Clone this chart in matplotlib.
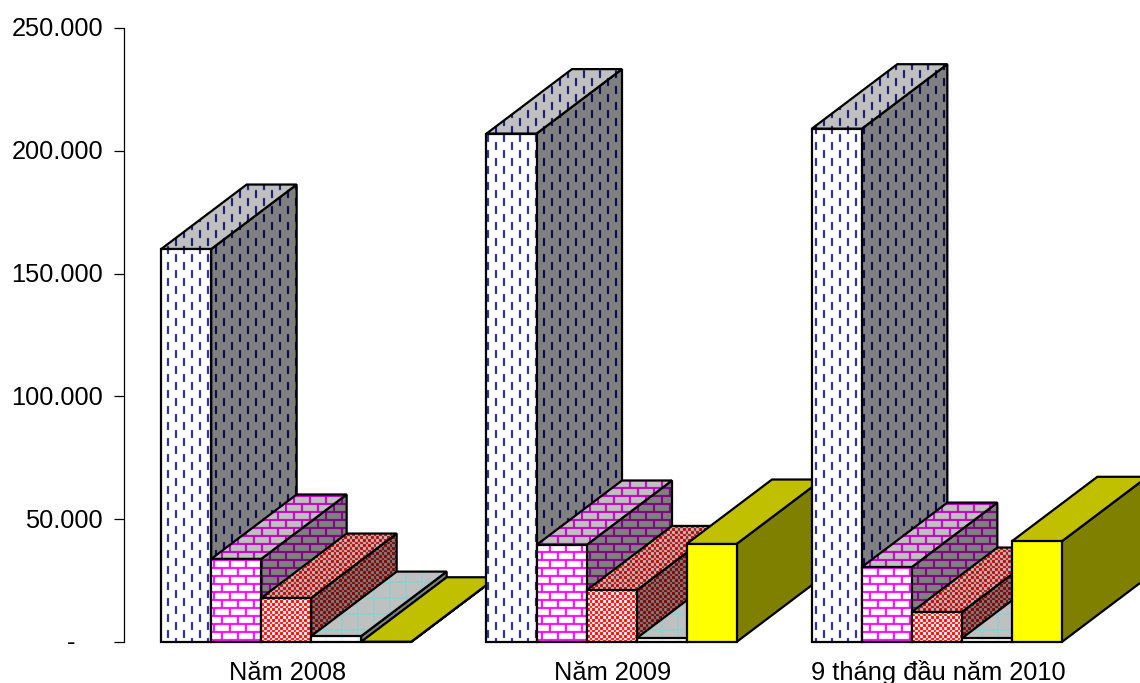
import numpy as np
import matplotlib
matplotlib.use("Agg")
import matplotlib.pyplot as plt
from matplotlib.patches import Polygon
from matplotlib.ticker import FixedLocator, FixedFormatter
from matplotlib.transforms import ScaledTranslation

plt.rcParams["font.family"] = ["Liberation Sans", "DejaVu Sans"]

# Chart data
categories = ["Năm 2008", "Năm 2009", "9 tháng đầu năm 2010"]
series_a = [160000, 207000, 209000]
series_b = [33800, 39500, 30500]
series_c = [17900, 21000, 12200]
series_d = [2400, 1500, 1500]
series_e = [100, 39900, 41000]
y_ticks = [0, 50000, 100000, 150000, 200000, 250000]
y_tick_labels = ["-    ", "50.000", "100.000", "150.000", "200.000", "250.000"]

W, H = 1140, 683
AX_W = 976
BAR_WIDTH = 50 / (AX_W / 3)
DEPTH_X = 85.5 / (AX_W / 3)      # extrusion, in category units
DEPTH_Y = 64.5 / 614 * 250000    # extrusion, in value units


def soften(mask):
    """Give a hard pixel mask the slightly fuzzy edge of a rescaled brush."""
    m = mask.astype(float)
    out = 0.64 * m
    for axis in (0, 1):
        out = out + 0.09 * (np.roll(m, 1, axis) + np.roll(m, -1, axis))
    return np.clip(out, 0, 1)


def tile(fn, color):
    """Build a screen-aligned RGBA pattern layer from a boolean pixel rule."""
    yy, xx = np.mgrid[0:H, 0:W]
    rgba = np.zeros((H, W, 4), dtype=float)
    rgba[..., :3] = matplotlib.colors.to_rgb(color)
    rgba[..., 3] = soften(fn(xx, yy))
    return rgba


def dashes(x, y):
    a = np.isin(x % 16, (7, 8)) & (((y - 6) % 16) < 8)
    b = np.isin(x % 16, (15, 0)) & (((y - 14) % 16) < 8)
    return a | b


def bricks(x, y):
    h = np.isin(y % 8, (7, 0))
    row = ((y + 1) // 8) % 2
    v = (np.isin(x % 16, (13, 14)) & (row == 1)) | (np.isin(x % 16, (5, 6)) & (row == 0))
    return h | v


def checks(x, y):
    return ((x * 6 // 16 + y * 6 // 16) % 2) == 0


def grid(x, y):
    return np.isin(x % 16, (5, 6)) | np.isin(y % 16, (5, 6))


# (pixel rule, [front, top, side] pattern colours)
styles = [
    (dashes, ["#1c1c90", "#101070", "#000050"]),
    (bricks, ["#ff00ff", "#c000c0", "#800080"]),
    (checks, ["#ff0000", "#c00000", "#800000"]),
    (grid, ["#ccffff", "#99cccc", "#668080"]),
    (None, None),
]
face_backgrounds = [
    ["#ffffff", "#c0c0c0", "#808080"],
    ["#ffffff", "#c0c0c0", "#808080"],
    ["#ffffff", "#c0c0c0", "#808080"],
    ["#ffffff", "#c0c0c0", "#808080"],
    ["#ffff00", "#c0c000", "#808000"],
]
layers = [
    None if fn is None else [tile(fn, c) for c in cols] for fn, cols in styles
]

fig = plt.figure(figsize=(W / 100, H / 100), dpi=100, facecolor="white")
ax = fig.add_axes([123.5 / W, (H - 642) / H, AX_W / W, 614 / H])
ax.set_xlim(-0.5, 2.5)
ax.set_ylim(0, 250000)

inv = ax.transData.inverted()
(x0, y0), (x1, y1) = inv.transform([(0, 0), (W, H)])
extent = (x0, x1, y0, y1)

all_series = [series_a, series_b, series_c, series_d, series_e]
z = 2


def add_face(verts, bg, layer):
    global z
    ax.add_patch(Polygon(verts, closed=True, facecolor=bg, edgecolor="none",
                         clip_on=False, zorder=z))
    z += 1
    if layer is not None:
        clip = Polygon(verts, closed=True, transform=ax.transData)
        im = ax.imshow(layer, extent=extent, origin="upper", aspect="auto",
                       interpolation="nearest", zorder=z)
        im.set_clip_box(fig.bbox)
        im.set_clip_path(clip.get_path(), ax.transData)
        z += 1
    ax.add_patch(Polygon(verts, closed=True, facecolor="none", edgecolor="black",
                         linewidth=1.6, joinstyle="miter", clip_on=False, zorder=z))
    z += 1


# Painter's order: left to right, each box hides the side of the previous one
for g in range(len(categories)):
    for s, values in enumerate(all_series):
        v = values[g]
        left = g - 2.5 * BAR_WIDTH + s * BAR_WIDTH
        right = left + BAR_WIDTH
        front = [(left, 0), (right, 0), (right, v), (left, v)]
        top = [(left, v), (right, v), (right + DEPTH_X, v + DEPTH_Y), (left + DEPTH_X, v + DEPTH_Y)]
        side = [(right, 0), (right + DEPTH_X, DEPTH_Y), (right + DEPTH_X, v + DEPTH_Y), (right, v)]
        lay = layers[s] or [None, None, None]
        bg = face_backgrounds[s]
        add_face(side, bg[2], lay[2])
        add_face(top, bg[1], lay[1])
        add_face(front, bg[0], lay[0])

ax.set_xlim(-0.5, 2.5)
ax.set_ylim(0, 250000)
ax.patch.set_visible(False)

for name in ("top", "right", "bottom"):
    ax.spines[name].set_visible(False)
ax.spines["left"].set_linewidth(0.9)

ax.yaxis.set_major_locator(FixedLocator(y_ticks))
ax.yaxis.set_major_formatter(FixedFormatter(y_tick_labels))
ax.tick_params(axis="y", length=7.2, width=0.9, pad=7.5, labelsize=18.3, color="black")
ax.set_xticks(range(len(categories)))
ax.set_xticklabels(categories, fontsize=18.3, va="baseline")
ax.tick_params(axis="x", length=0, pad=27.4)

up = ScaledTranslation(0, 1 / 100, fig.dpi_scale_trans)
for label in ax.get_yticklabels():
    label.set_transform(label.get_transform() + up)
right_shift = ScaledTranslation(1.5 / 100, 0, fig.dpi_scale_trans)
for label in ax.get_xticklabels():
    label.set_transform(label.get_transform() + right_shift)

fig.savefig("out.png", dpi=100, facecolor="white")
